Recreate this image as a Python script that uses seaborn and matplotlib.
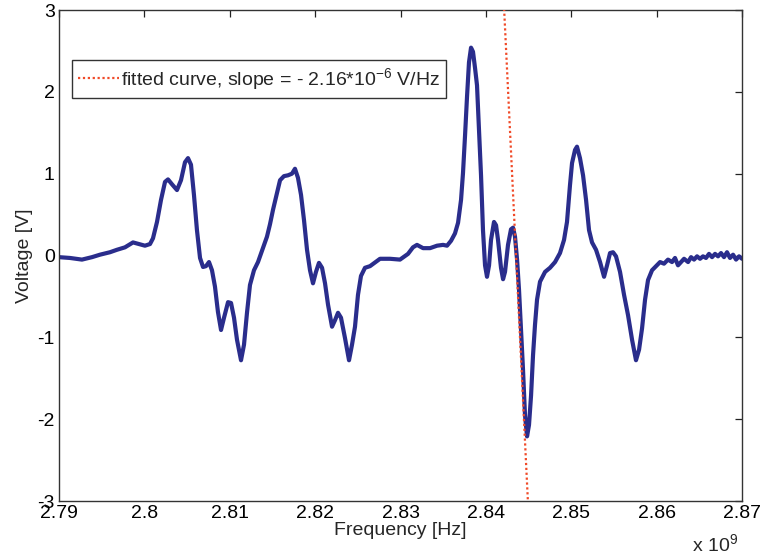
import numpy as np
import pandas as pd
import matplotlib
matplotlib.use("Agg")
import matplotlib.pyplot as plt
import seaborn as sns

# Measured signal: frequency in GHz, voltage in V
freq_ghz = [
    2.79000, 2.79129, 2.79269, 2.79387, 2.79480, 2.79597, 2.79679, 2.79773, 2.79867, 2.79937,
    2.80007, 2.80066, 2.80101, 2.80148, 2.80195, 2.80242, 2.80277, 2.80324, 2.80382, 2.80429,
    2.80476, 2.80511, 2.80546, 2.80581, 2.80616, 2.80652, 2.80687, 2.80722, 2.80757, 2.80792,
    2.80827, 2.80862, 2.80898, 2.80933, 2.80980, 2.81015, 2.81050, 2.81085, 2.81132, 2.81167,
    2.81202, 2.81237, 2.81284, 2.81331, 2.81389, 2.81436, 2.81471, 2.81507, 2.81553, 2.81589,
    2.81635, 2.81682, 2.81729, 2.81764, 2.81799, 2.81835, 2.81870, 2.81905, 2.81940, 2.81975,
    2.82010, 2.82045, 2.82081, 2.82116, 2.82151, 2.82198, 2.82233, 2.82268, 2.82303, 2.82350,
    2.82397, 2.82432, 2.82467, 2.82502, 2.82537, 2.82584, 2.82643, 2.82760, 2.82877, 2.82994,
    2.83088, 2.83146, 2.83193, 2.83264, 2.83346, 2.83428, 2.83498, 2.83545, 2.83592, 2.83638,
    2.83674, 2.83709, 2.83732, 2.83756, 2.83779, 2.83802, 2.83826, 2.83849, 2.83873, 2.83896,
    2.83920, 2.83943, 2.83966, 2.83990, 2.84013, 2.84037, 2.84060, 2.84095, 2.84119, 2.84142,
    2.84177, 2.84201, 2.84224, 2.84259, 2.84294, 2.84318, 2.84341, 2.84365, 2.84388, 2.84411,
    2.84435, 2.84458, 2.84482, 2.84505, 2.84529, 2.84552, 2.84575, 2.84599, 2.84634, 2.84693,
    2.84751, 2.84810, 2.84868, 2.84915, 2.84950, 2.84985, 2.85009, 2.85044, 2.85067, 2.85102,
    2.85138, 2.85173, 2.85208, 2.85243, 2.85290, 2.85337, 2.85384, 2.85419, 2.85454, 2.85489,
    2.85524, 2.85571, 2.85618, 2.85665, 2.85712, 2.85758, 2.85794, 2.85829, 2.85864, 2.85899,
    2.85946, 2.85993, 2.86040, 2.86086, 2.86133, 2.86180, 2.86215, 2.86250, 2.86286, 2.86321,
    2.86368, 2.86403, 2.86438, 2.86473, 2.86508, 2.86543, 2.86578, 2.86613, 2.86649, 2.86684,
    2.86719, 2.86754, 2.86789, 2.86824, 2.86859, 2.86895, 2.86930, 2.86965, 2.87000,
]

voltage = [
    -0.02, -0.03, -0.05, -0.02, 0.01, 0.04, 0.07, 0.10, 0.16, 0.14,
    0.12, 0.14, 0.21, 0.41, 0.68, 0.90, 0.93, 0.87, 0.80, 0.92,
    1.14, 1.19, 1.11, 0.74, 0.31, -0.03, -0.14, -0.13, -0.08, -0.18,
    -0.38, -0.69, -0.91, -0.76, -0.57, -0.58, -0.76, -1.03, -1.28, -1.09,
    -0.70, -0.36, -0.18, -0.08, 0.09, 0.23, 0.38, 0.56, 0.76, 0.92,
    0.97, 0.98, 1.00, 1.06, 0.95, 0.74, 0.43, 0.07, -0.18, -0.34,
    -0.20, -0.09, -0.15, -0.34, -0.60, -0.87, -0.79, -0.70, -0.76, -1.01,
    -1.28, -1.09, -0.87, -0.48, -0.25, -0.15, -0.13, -0.04, -0.04, -0.05,
    0.02, 0.10, 0.13, 0.09, 0.09, 0.12, 0.13, 0.12, 0.18, 0.27,
    0.40, 0.68, 1.01, 1.47, 1.94, 2.36, 2.54, 2.49, 2.29, 2.08,
    1.53, 0.98, 0.31, -0.12, -0.26, -0.12, 0.19, 0.41, 0.37, 0.19,
    -0.15, -0.29, -0.20, 0.13, 0.32, 0.34, 0.23, -0.05, -0.42, -0.91,
    -1.40, -1.95, -2.21, -2.07, -1.71, -1.22, -0.85, -0.54, -0.32, -0.20,
    -0.15, -0.08, 0.03, 0.19, 0.41, 0.86, 1.13, 1.29, 1.33, 1.19,
    0.98, 0.68, 0.31, 0.16, 0.07, -0.08, -0.26, -0.12, 0.03, 0.04,
    -0.01, -0.20, -0.48, -0.73, -1.03, -1.28, -1.15, -0.89, -0.54, -0.30,
    -0.18, -0.13, -0.08, -0.10, -0.05, -0.08, -0.03, -0.12, -0.08, -0.04,
    -0.08, -0.02, -0.05, -0.01, -0.04, -0.01, -0.03, 0.02, -0.02, 0.02,
    -0.01, 0.03, -0.02, 0.04, -0.03, 0.01, -0.05, -0.01, -0.04,
]

# Linear fit around the central zero crossing
fit_slope = -2.16e-6          # V/Hz
fit_center_hz = 2.84353e9     # zero crossing of the fit
fit_span_hz = [-1.6e6, 1.6e6]  # drawn extent around the centre

x_ticks = [2.79, 2.80, 2.81, 2.82, 2.83, 2.84, 2.85, 2.86, 2.87]
x_tick_labels = ["2.79", "2.8", "2.81", "2.82", "2.83", "2.84", "2.85", "2.86", "2.87"]
y_ticks = [-3, -2, -1, 0, 1, 2, 3]

sns.set_style("white")
plt.rcParams["font.family"] = ["Liberation Sans", "DejaVu Sans"]
plt.rcParams["mathtext.default"] = "regular"

df = pd.DataFrame({"freq": np.array(freq_ghz) * 1e9, "volt": voltage})
fit_x = np.array([fit_center_hz + d for d in fit_span_hz])
fit_df = pd.DataFrame({"freq": fit_x, "volt": fit_slope * (fit_x - fit_center_hz)})

fig = plt.figure(figsize=(7.62, 5.56), dpi=100)
ax = fig.add_axes([0.0774, 0.0989, 0.8964, 0.8831])

sns.lineplot(data=df, x="freq", y="volt", ax=ax, color="#2a2d8c",
             linewidth=3.0, estimator=None, sort=False, zorder=2)
sns.lineplot(data=fit_df, x="freq", y="volt", ax=ax, color="#f04a28",
             linewidth=1.6, linestyle=(0, (1, 1.2)), estimator=None,
             sort=False, zorder=3,
             label="fitted curve, slope = - 2.16*10$^{-6}$ V/Hz")

ax.set_xlim(2.79e9, 2.87e9)
ax.set_ylim(-3, 3)
ax.set_xticks([t * 1e9 for t in x_ticks])
ax.set_xticklabels(x_tick_labels)
ax.set_yticks(y_ticks)
ax.set_yticklabels([str(t) for t in y_ticks])

ax.tick_params(direction="in", length=5, width=0.9, top=True, right=True,
               labelsize=14, colors="#222222", labelcolor="black", pad=3)
for s in ax.spines.values():
    s.set_color("#333333")
    s.set_linewidth(1.0)

ax.set_xlabel("Frequency [Hz]", fontsize=14, labelpad=0)
ax.set_ylabel("Voltage [V]", fontsize=14, labelpad=3)

ax.text(0.994, -0.088, r"x 10$^{9}$", transform=ax.transAxes,
        ha="right", va="center", fontsize=14)

leg = ax.legend(loc="upper left", bbox_to_anchor=(0.019, 0.898),
                fontsize=14, frameon=True, fancybox=False, shadow=False,
                handlelength=2.1, handletextpad=0.1, borderpad=0.3,
                borderaxespad=0.0)
leg.get_frame().set_edgecolor("black")
leg.get_frame().set_linewidth(1.0)

fig.savefig("out.png", dpi=100)
